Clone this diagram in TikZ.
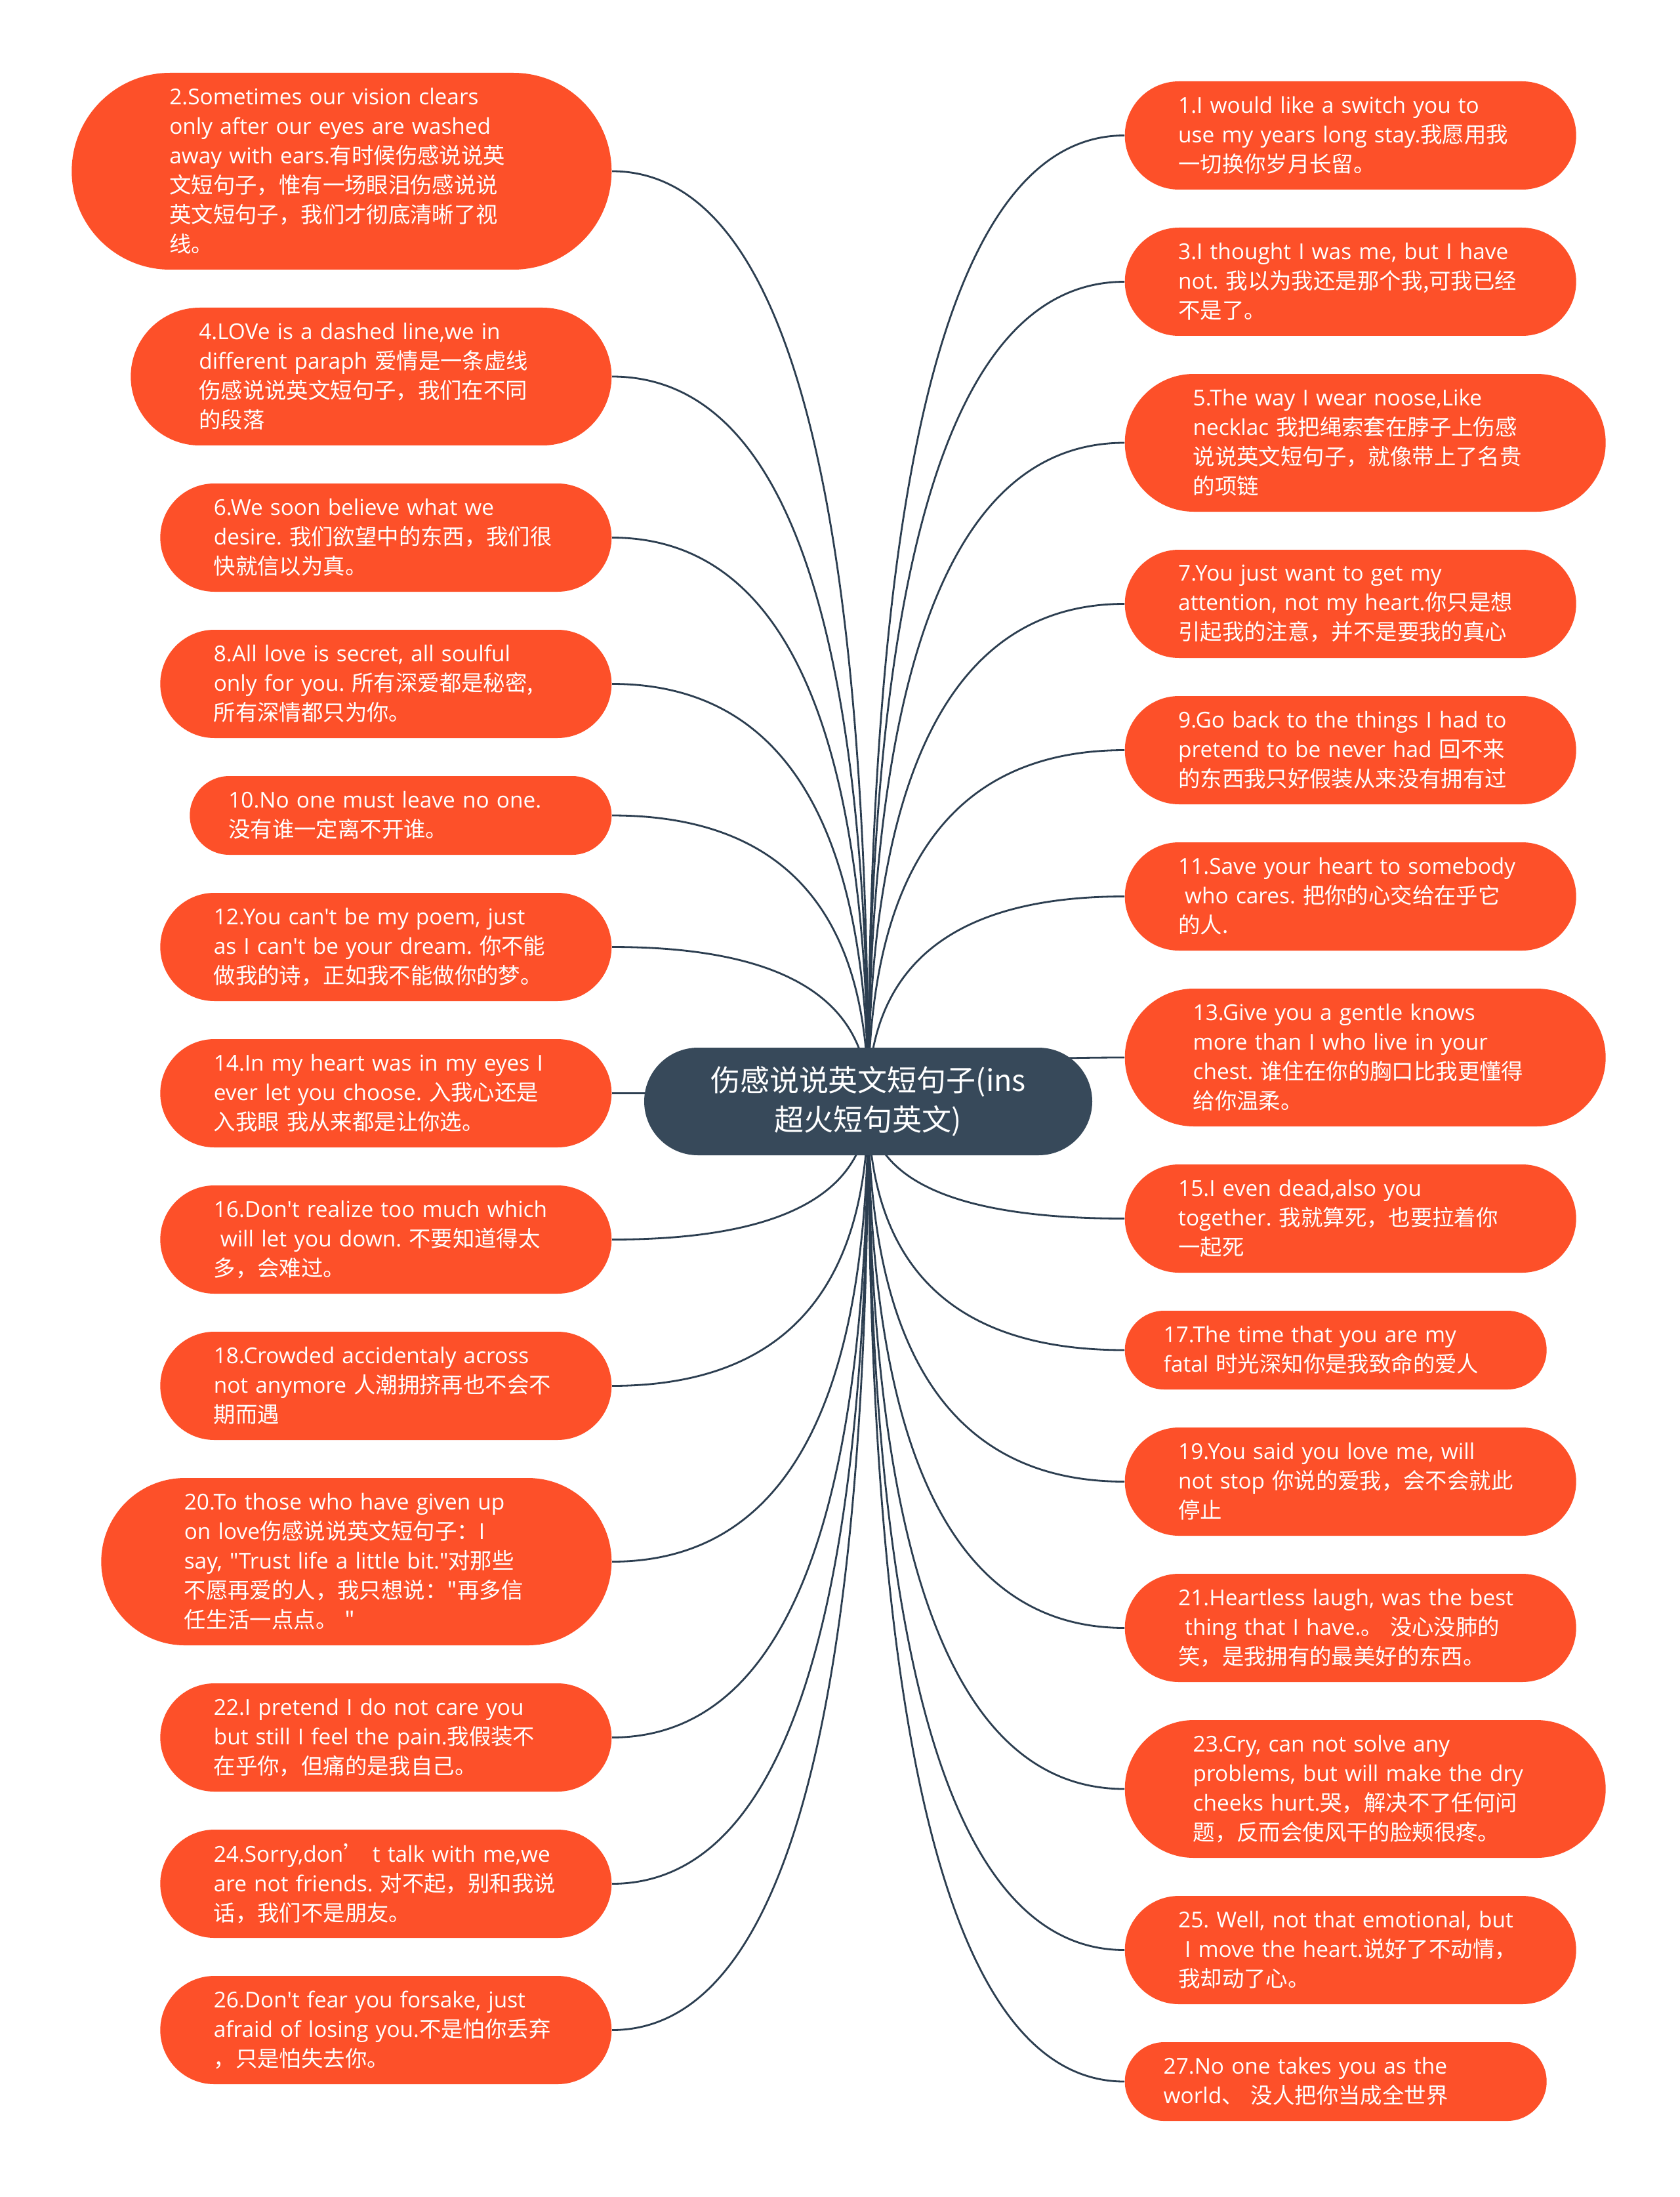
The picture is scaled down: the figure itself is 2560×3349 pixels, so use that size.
\documentclass[tikz,border=0pt]{standalone}
\usepackage{fontspec}
\setmainfont{Open Sans}[Ligatures=TeXOff]
\newfontfamily\zhfont{Noto Sans CJK SC}
\usetikzlibrary{calc}
\definecolor{OOrange}{HTML}{FD5029}
\definecolor{OSlate}{HTML}{37495A}
\definecolor{OLine}{HTML}{2C3E50}
\newcommand{\zh}[1]{{\zhfont #1}}
\newcommand{\padl}{\hspace*{0.3em}}
\frenchspacing
\pgfdeclarelayer{back}
\pgfsetlayers{back,main}

\begin{document}
\begin{tikzpicture}[
  x=0.1mm,y=-0.1mm,
  every node/.style={font=\fontsize{9.5pt}{12.8pt}\selectfont},
  leaf/.style={fill=OOrange,text=white,align=left,text width=52.5mm,
    inner ysep=0pt,minimum height={(4.5*#1+3)*1mm},
    inner xsep={(2.25*#1+1.4)*1mm},rounded corners={(2.25*#1+1.5)*1mm}},
  hub/.style={fill=OSlate,text=white,align=center,inner sep=0pt,
    minimum width=68.3mm,minimum height=16.4mm,rounded corners=8.2mm,
    font=\zhfont\fontsize{12.8pt}{17pt}\selectfont},
  link/.style={OLine,line width=0.8pt,
    to path={.. controls ($(\tikztostart)!0.667!(\tikztostart|-\tikztotarget)$)
      and ($(\tikztotarget)!0.667!(\tikztostart|-\tikztotarget)$) .. (\tikztotarget)}}
]
  \useasboundingbox (0,0) rectangle (2560,3349);

  \node[hub] (root) at (1323.5,1679) {伤感说说英文短句子(ins\\超火短句英文)};

  % left column
  \node[leaf=6,anchor=east] (s2) at (933,261) {2.Sometimes our vision clears\\only after our eyes are washed\\away with ears.\zh{有时候伤感说说英}\\\zh{文短句子，惟有一场眼泪伤感说说}\\\zh{英文短句子，我们才彻底清晰了视}\\\zh{线。}};
  \node[leaf=4,anchor=east] (s4) at (933,574) {4.LOVe is a dashed line,we in\\different paraph \zh{爱情是一条虚线}\\\zh{伤感说说英文短句子，我们在不同}\\\zh{的段落}};
  \node[leaf=3,anchor=east] (s6) at (933,819.5) {6.We soon believe what we\\desire. \zh{我们欲望中的东西，我们很}\\\zh{快就信以为真。}};
  \node[leaf=3,anchor=east] (s8) at (933,1042.5) {8.All love is secret, all soulful\\only for you. \zh{所有深爱都是秘密,}\\\zh{所有深情都只为你。}};
  \node[leaf=2,anchor=east] (s10) at (933,1243) {10.No one must leave no one.\\\zh{没有谁一定离不开谁。}};
  \node[leaf=3,anchor=east] (s12) at (933,1443.5) {12.You can't be my poem, just\\as I can't be your dream. \zh{你不能}\\\zh{做我的诗，正如我不能做你的梦。}};
  \node[leaf=3,anchor=east] (s14) at (933,1666.5) {14.In my heart was in my eyes I\\ever let you choose. \zh{入我心还是}\\\zh{入我眼 我从来都是让你选。}};
  \node[leaf=3,anchor=east] (s16) at (933,1889.5) {16.Don't realize too much which\\\padl will let you down. \zh{不要知道得太}\\\zh{多，会难过。}};
  \node[leaf=3,anchor=east] (s18) at (933,2112.5) {18.Crowded accidentaly across\\not anymore \zh{人潮拥挤再也不会不}\\\zh{期而遇}};
  \node[leaf=5,anchor=east] (s20) at (933,2380.5) {20.To those who have given up\\on love\zh{伤感说说英文短句子：}I\\say, "Trust life a little bit."\zh{对那些}\\\zh{不愿再爱的人，我只想说："再多信}\\\zh{任生活一点点。 "}};
  \node[leaf=3,anchor=east] (s22) at (933,2648.5) {22.I pretend I do not care you\\but still I feel the pain.\zh{我假装不}\\\zh{在乎你，但痛的是我自己。}};
  \node[leaf=3,anchor=east] (s24) at (933,2871.5) {24.Sorry,don\zh{’} t talk with me,we\\\mbox{are not friends. \zh{对不起，别和我说}}\\\zh{话，我们不是朋友。}};
  \node[leaf=3,anchor=east] (s26) at (933,3094.5) {26.Don't fear you forsake, just\\afraid of losing you.\zh{不是怕你丢弃}\\\zh{，只是怕失去你。}};

  % right column
  \node[leaf=3,anchor=west] (s1) at (1714,206.5) {1.I would like a switch you to\\use my years long stay.\zh{我愿用我}\\\zh{一切换你岁月长留。}};
  \node[leaf=3,anchor=west] (s3) at (1714,429.5) {3.I thought I was me, but I have\\not. \zh{我以为我还是那个我,可我已经}\\\zh{不是了。}};
  \node[leaf=4,anchor=west] (s5) at (1714,675) {5.The way I wear noose,Like\\necklac \zh{我把绳索套在脖子上伤感}\\\zh{说说英文短句子，就像带上了名贵}\\\zh{的项链}};
  \node[leaf=3,anchor=west] (s7) at (1714,920.5) {7.You just want to get my\\attention, not my heart.\zh{你只是想}\\\zh{引起我的注意，并不是要我的真心}};
  \node[leaf=3,anchor=west] (s9) at (1714,1143.5) {9.Go back to the things I had to\\pretend to be never had \zh{回不来}\\\zh{的东西我只好假装从来没有拥有过}};
  \node[leaf=3,anchor=west] (s11) at (1714,1366.5) {11.Save your heart to somebody\\\padl who cares. \zh{把你的心交给在乎它}\\\zh{的人.}};
  \node[leaf=4,anchor=west] (s13) at (1714,1612) {13.Give you a gentle knows\\more than I who live in your\\chest. \zh{谁住在你的胸口比我更懂得}\\\zh{给你温柔。}};
  \node[leaf=3,anchor=west] (s15) at (1714,1857.5) {15.I even dead,also you\\together. \zh{我就算死，也要拉着你}\\\zh{一起死}};
  \node[leaf=2,anchor=west] (s17) at (1714,2058) {17.The time that you are my\\fatal \zh{时光深知你是我致命的爱人}};
  \node[leaf=3,anchor=west] (s19) at (1714,2258.5) {19.You said you love me, will\\not stop \zh{你说的爱我，会不会就此}\\\zh{停止}};
  \node[leaf=3,anchor=west] (s21) at (1714,2481.5) {21.Heartless laugh, was the best\\\padl thing that I have.\zh{。 没心没肺的}\\\zh{笑，是我拥有的最美好的东西。}};
  \node[leaf=4,anchor=west] (s23) at (1714,2727) {23.Cry, can not solve any\\problems, but will make the dry\\cheeks hurt.\zh{哭，解决不了任何问}\\\zh{题，反而会使风干的脸颊很疼。}};
  \node[leaf=3,anchor=west] (s25) at (1714,2972.5) {25. Well, not that emotional, but\\\padl I move the heart.\zh{说好了不动情，}\\\zh{我却动了心。}};
  \node[leaf=2,anchor=west] (s27) at (1714,3173) {27.No one takes you as the\\world\zh{、 没人把你当成全世界}};

  % branches behind the nodes
  \begin{pgfonlayer}{back}
    \fill[white] (0,0) rectangle (2560,3349);
    \draw[link] (root.center) to (s2.east);
    \draw[link] (root.center) to (s4.east);
    \draw[link] (root.center) to (s6.east);
    \draw[link] (root.center) to (s8.east);
    \draw[link] (root.center) to (s10.east);
    \draw[link] (root.center) to (s12.east);
    \draw[link] (root.center) to (s14.east);
    \draw[link] (root.center) to (s16.east);
    \draw[link] (root.center) to (s18.east);
    \draw[link] (root.center) to (s20.east);
    \draw[link] (root.center) to (s22.east);
    \draw[link] (root.center) to (s24.east);
    \draw[link] (root.center) to (s26.east);
    \draw[link] (root.center) to (s1.west);
    \draw[link] (root.center) to (s3.west);
    \draw[link] (root.center) to (s5.west);
    \draw[link] (root.center) to (s7.west);
    \draw[link] (root.center) to (s9.west);
    \draw[link] (root.center) to (s11.west);
    \draw[link] (root.center) to (s13.west);
    \draw[link] (root.center) to (s15.west);
    \draw[link] (root.center) to (s17.west);
    \draw[link] (root.center) to (s19.west);
    \draw[link] (root.center) to (s21.west);
    \draw[link] (root.center) to (s23.west);
    \draw[link] (root.center) to (s25.west);
    \draw[link] (root.center) to (s27.west);
  \end{pgfonlayer}
\end{tikzpicture}
\end{document}
